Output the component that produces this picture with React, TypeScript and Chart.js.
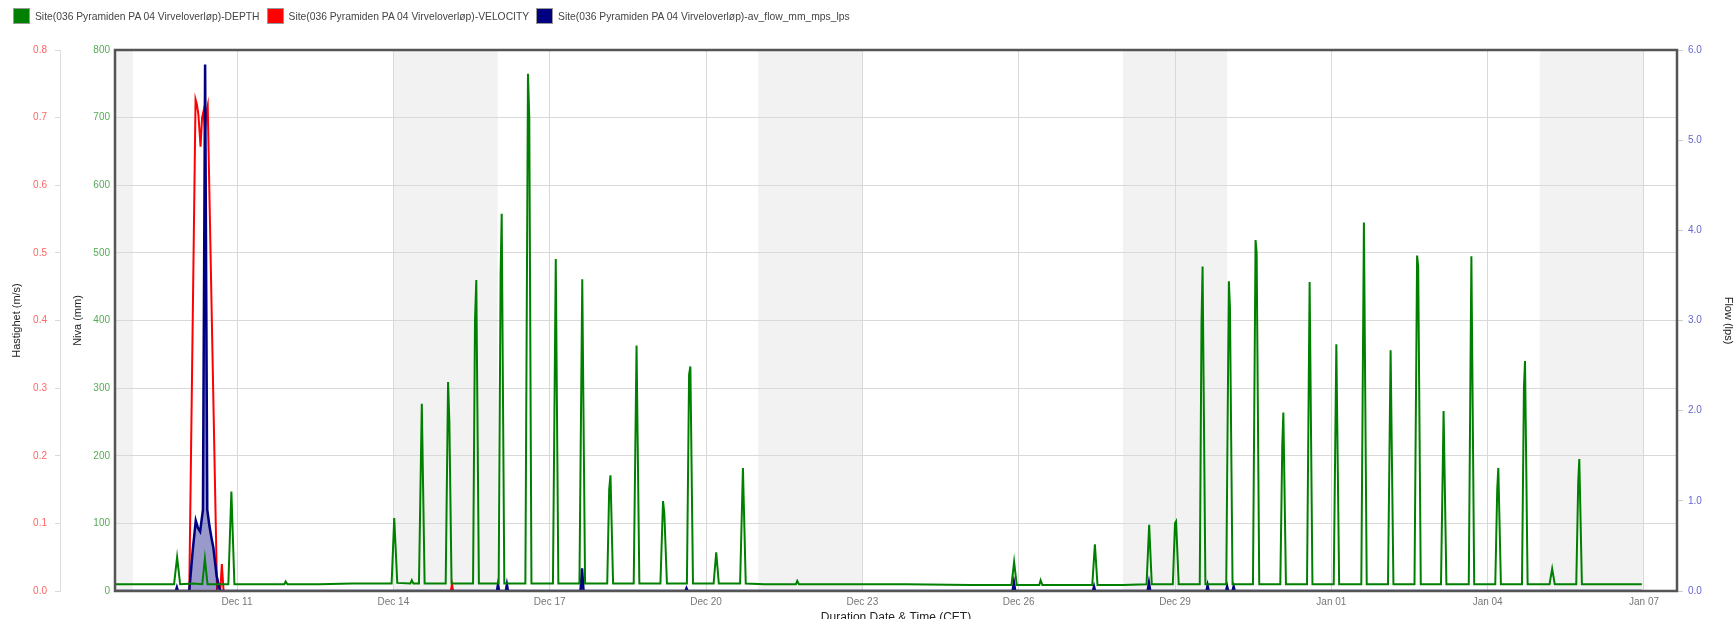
import React, { useEffect, useRef } from 'react';
import { Chart, registerables } from 'chart.js';

Chart.register(...registerables);

const FONT = '"Liberation Sans", Arial, Helvetica, sans-serif';

const seriesNames = [
  'Site(036 Pyramiden PA 04 Virveloverløp)-DEPTH',
  'Site(036 Pyramiden PA 04 Virveloverløp)-VELOCITY',
  'Site(036 Pyramiden PA 04 Virveloverløp)-av_flow_mm_mps_lps',
];
const seriesColors = ['#008000', '#ff0000', '#000080'];

// time axis: hours since 8 Dec 2024 00:00 (CET)
const xTickHours = [72, 144, 216, 288, 360, 432, 504, 576, 648, 720];
const xTickLabels = ['Dec 11', 'Dec 14', 'Dec 17', 'Dec 20', 'Dec 23', 'Dec 26', 'Dec 29', 'Jan 01', 'Jan 04', 'Jan 07'];
const xMinHour = 15.8;
const xMaxHour = 735.2;

// weekend shading (hours)
const weekendStartHours = [0, 144, 312, 480, 672];
const weekendEndHours = [24, 192, 360, 528, 720];

// DEPTH (mm)
const depthHours = [
  16, 30, 43, 44.4, 45.8, 52, 56, 57.2, 58.4, 62, 68, 69.4, 70.8, 80, 93.8, 94.4, 95.2, 110, 125,
  143.2, 144.4, 145.8, 151.8, 152.5, 153.2, 155.8, 157.1, 158.4, 168.1, 169.2, 169.8, 170.8,
  180.7, 181.6, 182.2, 183.4, 192.5, 193.4, 193.9, 195.1, 204.8, 206.0, 206.6, 207.6,
  217.5, 218.8, 220.0, 229.7, 231.0, 232.3, 242.5, 243.4, 244.0, 245.2, 254.7, 256.0, 257.3,
  267.0, 268.2, 268.8, 270.0, 279.2, 280.2, 280.8, 282.0, 291.5, 292.7, 293.9, 303.7, 305.0, 306.3,
  315, 329.4, 330.0, 330.8, 350, 380, 410, 428.7, 429.9, 431.1, 441.5, 442.1, 442.9, 455,
  465.9, 467.1, 468.3, 480, 490.9, 492.1, 493.3, 503.0, 504.0, 504.5, 505.7,
  515.4, 516.2, 516.7, 518.0, 527.6, 528.8, 529.3, 530.5, 539.9, 541.1, 541.6, 542.8,
  552.5, 553.4, 553.9, 555.1, 564.8, 566.0, 567.3, 577.1, 578.3, 579.6, 589.8, 591.0, 592.3,
  602.1, 603.3, 604.6, 614.3, 615.5, 616.0, 617.2, 626.5, 627.7, 629.0, 639.3, 640.5, 641.8,
  651.5, 652.4, 652.9, 654.1, 663.8, 664.7, 665.2, 666.4, 676.5, 677.7, 678.9,
  688.8, 689.7, 690.2, 691.4, 705, 719.0,
];
const depthMm = [
  10, 10, 10, 50, 10, 11, 10, 48, 10, 10, 10, 147, 10, 10, 10, 14, 10, 10, 11,
  11, 108, 12, 11, 16, 11, 11, 277, 11, 11, 309, 250, 11,
  11, 400, 460, 11, 11, 470, 558, 11, 11, 765, 700, 11,
  11, 491, 11, 11, 461, 11, 11, 150, 171, 11, 11, 363, 11,
  11, 133, 115, 11, 11, 320, 332, 11, 11, 57, 11, 11, 182, 11,
  10, 10, 15, 10, 10, 10, 9, 9, 43, 9, 9, 16, 9, 9,
  9, 69, 9, 9, 10, 98, 10, 10, 100, 103, 10,
  10, 395, 480, 10, 10, 458, 420, 10, 10, 519, 500, 10,
  10, 215, 264, 10, 10, 457, 10, 10, 365, 10, 10, 545, 10,
  10, 356, 10, 10, 496, 480, 10, 10, 266, 10, 10, 495, 10,
  10, 150, 182, 10, 10, 300, 340, 10, 10, 33, 10,
  10, 160, 195, 10, 10, 10,
];

// VELOCITY (m/s)
const velocityHours = [
  16, 50.0, 52.9, 53.5, 54.2, 55.2, 55.9, 56.6, 57.3, 58.0, 58.5, 62.8, 64.3, 65.0, 65.8,
  170.5, 171.0, 171.5, 429.3, 429.8, 430.3, 719,
];
const velocityMs = [
  0, 0, 0.727, 0.72, 0.705, 0.657, 0.7, 0.71, 0.68, 0.71, 0.718, 0, 0, 0.04, 0,
  0, 0.01, 0, 0, 0.012, 0, 0,
];

// av_flow (lps)
const flowHours = [
  16, 43.8, 44.3, 44.8, 50.0, 51.6, 53.0, 54.0, 55.0, 56.3, 57.3, 58.3, 59.3, 60.3, 61.1, 62.6, 64.2,
  191.7, 192.2, 192.7, 195.8, 196.3, 196.8, 230.2, 230.9, 231.6, 278.5, 279.0, 279.5,
  429.2, 429.8, 430.4, 466.2, 466.7, 467.2, 491.4, 492.0, 492.6, 518.5, 519.0, 519.5,
  527.5, 528.0, 528.5, 530.5, 531.0, 531.5, 719,
];
const flowLps = [
  0, 0, 0.04, 0, 0, 0.45, 0.78, 0.7, 0.66, 0.9, 5.84, 0.9, 0.72, 0.58, 0.48, 0.17, 0,
  0, 0.07, 0, 0, 0.07, 0, 0, 0.25, 0, 0, 0.03, 0,
  0, 0.09, 0, 0, 0.05, 0, 0, 0.09, 0, 0, 0.06, 0,
  0, 0.05, 0, 0, 0.05, 0, 0,
];

const toPoints = (xs: number[], ys: number[]) => xs.map((x, i) => ({ x, y: ys[i] }));

const bandsPlugin = {
  id: 'weekendBands',
  beforeDraw(chart: any) {
    const { ctx, chartArea: a, scales } = chart;
    const x = scales.x;
    ctx.save();
    ctx.fillStyle = '#f2f2f2';
    weekendStartHours.forEach((s, i) => {
      const x0 = Math.max(x.getPixelForValue(s), a.left);
      const x1 = Math.min(x.getPixelForValue(weekendEndHours[i]), a.right);
      if (x1 > x0) ctx.fillRect(x0, a.top, x1 - x0, a.bottom - a.top);
    });
    ctx.restore();
  },
};

const framePlugin = {
  id: 'plotFrame',
  afterDatasetsDraw(chart: any) {
    const { ctx, chartArea: a } = chart;
    ctx.save();
    ctx.strokeStyle = '#555555';
    ctx.lineWidth = 2.5;
    ctx.strokeRect(a.left, a.top, a.right - a.left, a.bottom - a.top);
    ctx.restore();
  },
};

function Legend() {
  return (
    <div
      style={{
        position: 'absolute',
        left: 5,
        top: 0,
        display: 'flex',
        alignItems: 'center',
        fontFamily: FONT,
        fontSize: 10.3,
        color: '#444',
        whiteSpace: 'nowrap',
      }}
    >
      {seriesNames.map((name, i) => (
        <div key={name} style={{ display: 'flex', alignItems: 'center', marginRight: 7 }}>
          <span
            style={{
              display: 'inline-block',
              width: 17,
              height: 16,
              background: seriesColors[i],
              border: '1px solid #999',
              boxSizing: 'border-box',
              marginRight: 5,
            }}
          />
          <span>{name}</span>
        </div>
      ))}
    </div>
  );
}

export default function App() {
  const ref = useRef<HTMLCanvasElement>(null);

  useEffect(() => {
    document.documentElement.style.overflow = 'hidden';
    Chart.defaults.font.family = FONT;
    const chart = new Chart(ref.current as HTMLCanvasElement, {
      type: 'line',
      data: {
        datasets: [
          {
            label: seriesNames[0],
            data: toPoints(depthHours, depthMm),
            borderColor: seriesColors[0],
            backgroundColor: seriesColors[0],
            borderWidth: 2,
            pointRadius: 0,
            tension: 0,
            yAxisID: 'y',
            order: 0,
          },
          {
            label: seriesNames[1],
            data: toPoints(velocityHours, velocityMs),
            borderColor: seriesColors[1],
            backgroundColor: seriesColors[1],
            borderWidth: 2,
            pointRadius: 0,
            tension: 0,
            yAxisID: 'yVel',
            order: 2,
          },
          {
            label: seriesNames[2],
            data: toPoints(flowHours, flowLps),
            borderColor: seriesColors[2],
            backgroundColor: 'rgba(0,0,128,0.4)',
            fill: 'origin',
            borderWidth: 2.5,
            pointRadius: 0,
            tension: 0,
            yAxisID: 'yFlow',
            order: 1,
          },
        ],
      },
      options: {
        responsive: true,
        maintainAspectRatio: false,
        animation: false,
        events: [],
        layout: { padding: { top: 42, left: 0, right: 0, bottom: 0 } },
        plugins: { legend: { display: false }, tooltip: { enabled: false } },
        scales: {
          x: {
            type: 'linear',
            position: 'bottom',
            min: xMinHour,
            max: xMaxHour,
            afterBuildTicks: (s: any) => {
              s.ticks = xTickHours.map((v) => ({ value: v }));
            },
            afterFit: (s: any) => {
              s.height = 36;
            },
            ticks: {
              autoSkip: false,
              maxRotation: 0,
              padding: 5,
              color: '#777',
              font: { size: 10 },
              callback: (v: any) => {
                const i = xTickHours.indexOf(Number(v));
                return i >= 0 ? xTickLabels[i] : '';
              },
            },
            grid: { color: '#d9d9d9', drawTicks: false },
            border: { display: false },
            title: {
              display: true,
              text: 'Duration Date & Time (CET)',
              color: '#222',
              font: { size: 12 },
              padding: { top: 0, bottom: 2.5 },
            },
          },
          yVel: {
            position: 'left',
            weight: 1,
            min: 0,
            max: 0.8,
            afterFit: (s: any) => {
              s.width = 52;
            },
            ticks: {
              stepSize: 0.1,
              padding: 8,
              color: '#ff6666',
              font: { size: 10 },
              callback: (v: any) => Number(v).toFixed(1),
            },
            grid: { drawOnChartArea: false, tickLength: 5, color: '#d9d9d9' },
            border: { display: true, color: '#dddddd' },
            title: {
              display: true,
              text: 'Hastighet (m/s)',
              color: '#222',
              font: { size: 11 },
              padding: { top: 2.4, bottom: 0 },
            },
          },
          y: {
            position: 'left',
            weight: 0,
            min: 0,
            max: 800,
            afterFit: (s: any) => {
              s.width = 55;
            },
            ticks: {
              stepSize: 100,
              padding: 5,
              color: '#55aa55',
              font: { size: 10 },
            },
            grid: { color: '#d9d9d9', drawTicks: false },
            border: { display: false },
            title: {
              display: true,
              text: 'Niva (mm)',
              color: '#222',
              font: { size: 11 },
              padding: { top: 11.4, bottom: 0 },
            },
          },
          yFlow: {
            position: 'right',
            min: 0,
            max: 6,
            afterFit: (s: any) => {
              s.width = 59;
            },
            ticks: {
              stepSize: 1,
              padding: 5,
              color: '#6666cc',
              font: { size: 10 },
              callback: (v: any) => Number(v).toFixed(1),
            },
            grid: { drawOnChartArea: false, tickLength: 6, color: '#cccccc' },
            border: { display: false },
            title: {
              display: true,
              text: 'Flow (lps)',
              color: '#222',
              font: { size: 11 },
              padding: { top: 1, bottom: 0 },
            },
          },
        },
      } as any,
      plugins: [bandsPlugin, framePlugin],
    });
    return () => chart.destroy();
  }, []);

  return (
    <div style={{ position: 'fixed', left: 8, top: 8, width: 1728, height: 619 }}>
      <div style={{ position: 'relative', width: 1728, height: 619 }}>
        <canvas ref={ref} />
      </div>
      <Legend />
    </div>
  );
}
